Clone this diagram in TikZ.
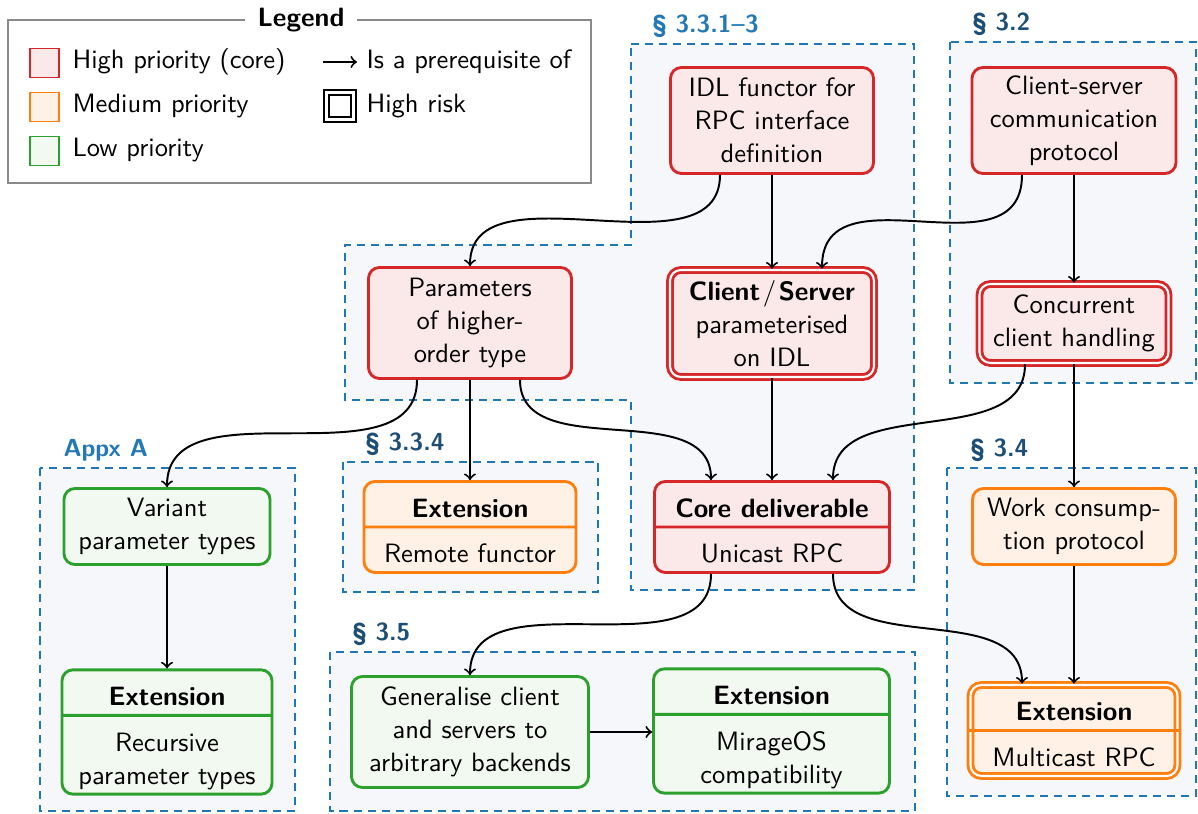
\documentclass[tikz,border=0pt]{standalone}
\usetikzlibrary{shapes.multipart}

% one drawing unit
\newlength\pu
\setlength\pu{0.3846pt}

\definecolor{cRed}{HTML}{D62728}
\definecolor{fRed}{HTML}{FBE8E9}
\definecolor{cOrange}{HTML}{FF7F0E}
\definecolor{fOrange}{HTML}{FFF1E5}
\definecolor{cGreen}{HTML}{2CA02C}
\definecolor{fGreen}{HTML}{F2F9F0}
\definecolor{cRegion}{HTML}{1F77B4}
\definecolor{fRegion}{HTML}{F5F7FB}
\definecolor{cSecLight}{HTML}{2378B8}
\definecolor{cSecDark}{HTML}{1D4F76}
\definecolor{cFrame}{HTML}{8A8A8A}

% centred cell for a part of a split box, set a little low in its part
\newcommand\tcell[1]{\raisebox{0pt}[\dimexpr\height+2.5pt\relax][\dimexpr\depth-2.5pt\relax]{\begin{tabular}{@{}c@{}}#1\end{tabular}}}

\begin{document}
\begin{tikzpicture}[
  x=0.3846pt, y=-0.3846pt,
  basefont/.style={font=\fontsize{10.2}{12.8}\selectfont\sffamily},
  task/.style={basefont, rounded corners=4.2pt, line width=1.1pt, inner sep=0pt},
  box/.style={task, align=center},
  high/.style={draw=cRed, fill=fRed},
  med/.style={draw=cOrange, fill=fOrange},
  low/.style={draw=cGreen, fill=fGreen},
  risk/.style={double=white, double distance=0.8pt},
  ext/.style={task, rectangle split, rectangle split parts=2,
              inner xsep=2pt, inner ysep=1.8pt},
  region/.style={draw=cRegion, fill=fRegion, line width=0.75pt,
                 dash pattern=on 3.1pt off 2.3pt},
  sect/.style={font=\fontsize{9.5}{11}\selectfont\sffamily\bfseries,
               anchor=base west, inner sep=0pt},
  link/.style={->, line width=0.75pt},
  legtxt/.style={basefont, anchor=base west, inner sep=0pt},
  legsq/.style={minimum size=29\pu, inner sep=0pt, line width=0.6pt},
]
\useasboundingbox (0,0) rectangle (1198,814);

% ---------- section regions ----------
\draw[region] (631,44) -- (914,44) -- (914,590) -- (631,590) -- (631,400)
  -- (345,400) -- (345,245) -- (631,245) -- cycle;
\draw[region] (950,42) rectangle (1196,383);
\draw[region] (343,462) rectangle (598,592);
\draw[region] (40,468) rectangle (295,811);
\draw[region] (947,468) rectangle (1196,796);
\draw[region] (330,652) rectangle (915,811);

\node[sect, text=cSecLight] (s331) at (652,33) {\S\ 3.3.1\textendash 3};
\node[sect, text=cSecDark]  (s32)  at (972,31) {\S\ 3.2};
\node[sect, text=cSecDark]  (s334) at (365,451) {\S\ 3.3.4};
\node[sect, text=cSecLight] (sapx) at (63,457) {Appx A};
\node[sect, text=cSecDark]  (s34)  at (970,457) {\S\ 3.4};
\node[sect, text=cSecDark]  (s35)  at (352,641) {\S\ 3.5};

% ---------- legend ----------
\draw[cFrame, line width=0.8pt] (8,20) rectangle (591,183);
\node[basefont, font=\fontsize{10.2}{12.8}\selectfont\sffamily\bfseries,
      anchor=base, fill=white, inner xsep=5pt, inner ysep=2pt]
      (legtitle) at (301,27) {Legend};
\node[legsq, draw=cRed, fill=fRed] (lsqH) at (44.5,63) {};
\node[legtxt] (ltxtH) at (72,69) {High priority (core)};
\node[legsq, draw=cOrange, fill=fOrange] (lsqM) at (44.5,107) {};
\node[legtxt] (ltxtM) at (72,113) {Medium priority};
\node[legsq, draw=cGreen, fill=fGreen] (lsqL) at (44.5,151) {};
\node[legtxt] (ltxtL) at (72,157) {Low priority};
\coordinate (la1) at (323,62);
\coordinate (la2) at (357,62);
\draw[link] (la1) -- (la2);
\node[legtxt] (ltxtA) at (366,69) {Is a prerequisite of};
\node[risk, draw=black, line width=1.1pt, minimum size=27\pu, inner sep=0pt]
      (lrisk) at (340,106) {};
\node[legtxt] (ltxtR) at (366,113) {High risk};

% ---------- tasks ----------
\node[box, high, minimum width=203\pu, minimum height=106\pu]
  (idl) at (772,120.5) {IDL functor for\\RPC interface\\definition};
\node[box, high, minimum width=204\pu, minimum height=106\pu]
  (comm) at (1074,120.5) {Client-server\\communication\\protocol};
\node[box, high, minimum width=203\pu, minimum height=111\pu]
  (params) at (470,323) {Parameters\\of higher-\\order type};
\node[box, high, risk, minimum width=204\pu, minimum height=107\pu]
  (cs) at (772,323.5) {\textbf{Client}\kern1pt/\kern1pt\textbf{Server}\\parameterised\\on IDL};
\node[box, high, risk, minimum width=189\pu, minimum height=79\pu]
  (conc) at (1074,323.5) {Concurrent\\client handling};

\node[box, low, minimum width=206\pu, minimum height=76\pu]
  (variant) at (167,526.5) {Variant\\parameter types};
\node[ext, med, minimum width=212\pu]
  (remote) at (470,527) {\tcell{\textbf{Extension}}\nodepart{two}\tcell{Remote functor}};
\node[ext, high, minimum width=235\pu]
  (core) at (772,527) {\tcell{\textbf{Core deliverable}}\nodepart{two}\tcell{Unicast RPC}};
\node[box, med, minimum width=203\pu, minimum height=76\pu]
  (work) at (1074,526.5) {Work consump-\\tion protocol};

\node[ext, low, minimum width=210\pu]
  (recursive) at (167,732) {\tcell{\textbf{Extension}}\nodepart{two}\tcell{Recursive\\parameter types}};
\node[box, low, minimum width=237\pu, minimum height=111\pu]
  (general) at (470,732) {Generalise client\\and servers to\\arbitrary backends};
\node[ext, low, minimum width=236\pu]
  (mirage) at (771.5,731) {\tcell{\textbf{Extension}}\nodepart{two}\tcell{MirageOS\\compatibility}};
\node[ext, med, risk, rectangle split draw splits=false, minimum width=207\pu]
  (mcast) at (1074,730.5) {\tcell{\textbf{Extension}}\nodepart{two}\tcell{Multicast RPC}};
\draw[cOrange, line width=1.1pt]
  (mcast.text split west) -- (mcast.text split east);

% ---------- prerequisites ----------
\draw[link] ([xshift=-52\pu]idl.south) .. controls +(0,104) and +(0,-104) .. (params.north);
\draw[link] (idl.south) -- (cs.north);
\draw[link] ([xshift=-52\pu]comm.south) .. controls +(0,104) and +(0,-104) .. ([xshift=50\pu]cs.north);
\draw[link] (comm.south) -- (conc.north);

\draw[link] ([xshift=-53\pu]params.south) .. controls +(0,106) and +(0,-106) .. (variant.north);
\draw[link] (params.south) -- (remote.north);
\draw[link] ([xshift=50\pu]params.south) .. controls +(0,85) and +(0,-85) .. ([xshift=-61\pu]core.north);
\draw[link] (cs.south) -- (core.north);
\draw[link] ([xshift=-49\pu]conc.south) .. controls +(0,88) and +(0,-88) .. ([xshift=61\pu]core.north);
\draw[link] (conc.south) -- (work.north);

\draw[link] (variant.south) -- (recursive.north);
\draw[link] ([xshift=-61\pu]core.south) .. controls +(0,102) and +(0,-102) .. (general.north);
\draw[link] ([xshift=61\pu]core.south) .. controls +(0,87) and +(0,-87) .. ([xshift=-52\pu]mcast.north);
\draw[link] (work.south) -- (mcast.north);
\draw[link] (general.east) -- (general.east -| mirage.west);
\end{tikzpicture}
\end{document}
